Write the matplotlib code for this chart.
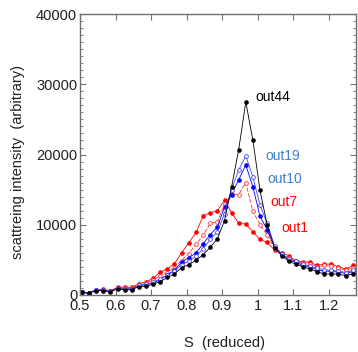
import matplotlib
matplotlib.use("Agg")
import matplotlib.pyplot as plt
from matplotlib.ticker import MultipleLocator, FuncFormatter

plt.rcParams['font.family'] = ['Liberation Sans', 'DejaVu Sans']

# S (reduced) sampling points
S = [0.505, 0.525, 0.545, 0.565, 0.585, 0.606, 0.626, 0.646, 0.666, 0.686,
     0.706, 0.726, 0.746, 0.766, 0.786, 0.806, 0.827, 0.847, 0.867, 0.887,
     0.907, 0.927, 0.947, 0.967, 0.987, 1.007, 1.027, 1.048, 1.068, 1.088,
     1.108, 1.128, 1.148, 1.168, 1.188, 1.208, 1.228, 1.249, 1.269, 1.289]

out44 = [380, 240, 620, 620, 470, 850, 750, 750, 1200, 1250,
         1550, 1900, 2500, 3000, 3900, 4300, 4950, 5750, 6800, 8000,
         10600, 15400, 20700, 27500, 22000, 14900, 10000, 6700, 5600, 4800,
         4400, 4000, 3700, 3300, 3000, 3000, 2950, 2750, 3050, 3100]
out19 = [430, 270, 700, 680, 520, 980, 880, 900, 1400, 1500,
         1800, 2300, 2800, 3400, 4300, 4800, 5500, 6600, 7900, 9000,
         11600, 15000, 17800, 19800, 16800, 12800, 10200, 7000, 5900, 5100,
         4800, 4400, 4100, 3800, 3600, 3500, 3400, 3200, 3500, 3600]
out10 = [420, 260, 680, 650, 500, 950, 850, 850, 1350, 1450,
         1700, 2200, 2900, 3500, 4700, 5300, 6000, 7300, 8600, 9700,
         12500, 14300, 16400, 18500, 15400, 11200, 9300, 6800, 5800, 5000,
         4650, 4200, 4000, 3600, 3400, 3350, 3250, 3050, 3350, 3450]
out7 = [450, 300, 750, 760, 560, 1050, 1000, 1000, 1550, 1700,
        2100, 2750, 3200, 3900, 4900, 5900, 7200, 8500, 10200, 10400,
        12900, 14400, 14300, 16000, 11900, 10000, 8600, 6600, 5800, 5300,
        4750, 4500, 4400, 4000, 4200, 4100, 3800, 3500, 3900, 4000]
out1 = [400, 260, 720, 820, 580, 1100, 1100, 1100, 1600, 1850,
        2400, 3250, 3700, 4450, 6000, 7400, 8900, 11300, 11700, 12000,
        13500, 11700, 10200, 10100, 9000, 7900, 7500, 6400, 6000, 5600,
        4900, 4700, 4650, 4200, 4400, 4400, 4000, 3700, 4200, 4300]

fig = plt.figure(figsize=(3.58, 3.52), dpi=100)
ax = fig.add_axes([0.2235, 0.162, 0.7705, 0.798])

lw = 0.6
ms = 2.3
ax.plot(S, out1, color='#ff0000', lw=lw, marker='o', ms=ms)
ax.plot(S, out7, color='#ff3030', lw=lw, ls=(0, (5, 2)), marker='o', ms=ms + 0.4,
        mfc='white', mew=0.6)
ax.plot(S, out10, color='#0000ff', lw=lw, marker='o', ms=ms)
ax.plot(S, out19, color='#4040ff', lw=lw, marker='o', ms=ms + 0.4,
        mfc='white', mew=0.6)
ax.plot(S, out44, color='black', lw=lw, marker='o', ms=ms)

ax.text(0.995, 28200, 'out44', color='black', fontsize=10, va='center')
ax.text(1.021, 19800, 'out19', color='#3d7fc8', fontsize=10, va='center')
ax.text(1.028, 16500, 'out10', color='#3d7fc8', fontsize=10, va='center')
ax.text(1.035, 13300, 'out7', color='#ff0000', fontsize=10, va='center')
ax.text(1.068, 9600, 'out1', color='#ff0000', fontsize=10, va='center')

ax.set_xlim(0.5, 1.277)
ax.set_ylim(0, 40000)
ax.xaxis.set_major_locator(MultipleLocator(0.1))
ax.xaxis.set_major_formatter(FuncFormatter(lambda v, p: '%g' % round(v, 2)))
ax.yaxis.set_major_locator(MultipleLocator(10000))
ax.yaxis.set_minor_locator(MultipleLocator(1000))

for sp in ax.spines.values():
    sp.set_color('#707070')
    sp.set_linewidth(1.0)
ax.tick_params(which='both', direction='in', top=True, right=True,
               colors='#707070', labelcolor='#202020', labelsize=10.5)
ax.tick_params(axis='y', pad=2)
ax.tick_params(axis='x', pad=3)
ax.tick_params(which='major', length=4)
ax.tick_params(which='minor', length=2.5)

fig.text(18 / 358, 1 - 162 / 352, 'scattreing intensity  (arbitrary)',
         rotation=90, ha='center', va='center', fontsize=10.5, color='#202020')
fig.text(224 / 358, 1 - 343 / 352, 'S  (reduced)', ha='center', va='center',
         fontsize=10.5, color='#202020')

fig.savefig('out.png', dpi=100)
